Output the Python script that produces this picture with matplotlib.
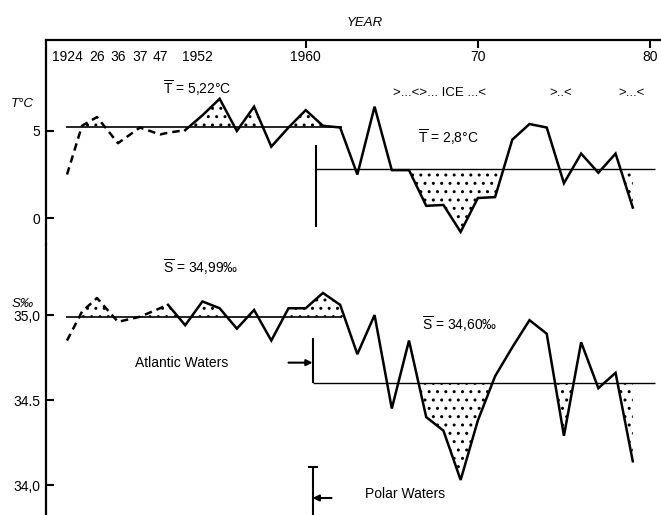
import matplotlib
matplotlib.use("Agg")
import matplotlib.pyplot as plt
import numpy as np
from matplotlib.transforms import blended_transform_factory

# --- data -----------------------------------------------------------------
years = [1924, 1925, 1926, 1936, 1937, 1947,
         1952, 1953, 1954, 1955, 1956, 1957, 1958, 1959,
         1960, 1961, 1962, 1963, 1964, 1965, 1966, 1967, 1968, 1969,
         1970, 1971, 1972, 1973, 1974, 1975, 1976, 1977, 1978, 1979]

temp = [2.5, 5.3, 5.8, 4.3, 5.2, 4.8,
        4.9, 5.05, 5.9, 6.85, 5.0, 6.4, 4.1, 5.2,
        6.2, 5.3, 5.2, 2.5, 6.4, 2.75, 2.75, 0.7, 0.75, -0.8,
        1.15, 1.2, 4.5, 5.4, 5.2, 2.0, 3.7, 2.6, 3.7, 0.6]

sal = [34.85, 35.02, 35.10, 34.96, 34.99, 35.04,
       35.06, 34.94, 35.08, 35.04, 34.92, 35.03, 34.85, 35.04,
       35.04, 35.13, 35.06, 34.77, 35.00, 34.45, 34.85, 34.40, 34.32, 34.03,
       34.38, 34.64, 34.81, 34.97, 34.89, 34.29, 34.84, 34.57, 34.66, 34.14]

# early sparse observations are drawn dashed up to these years
temp_dashed_until = 1953
sal_dashed_until = 1952

# period means
temp_mean_early, temp_mean_late = 5.22, 2.8
sal_mean_early, sal_mean_late = 34.99, 34.60
early_period = (1923.9, 1962.1)
late_end = 1980.3
temp_split, sal_split = 1960.6, 1960.4

# ice years, stippled where the late-period curve falls below its mean
temp_ice = [(1965.5, 1972), (1978.5, 1979.5)]
sal_ice = [(1966.5, 1972), (1974.5, 1975.5), (1978.5, 1979.5)]

top_ticks = [1924, 1926, 1936, 1937, 1947, 1952, 1960, 1970, 1980]
top_labels = ["1924", "26", "36", "37", "47", "1952", "1960", "70", "80"]
major_years = [1960, 1970, 1980]

ice_marks = [(1967.8, ">...<>... ICE ...<"), (1974.8, ">..<"), (1978.9, ">...<")]

# uneven year axis: the sparse early years are spread out, linear from 1952
axis_years = [1924, 1926, 1936, 1937, 1947, 1952, 1980]
axis_pos = [21, 51, 72, 94, 114, 122, 604]
axis_extent = (0, 615)


def year_to_pos(x):
    x = np.asarray(x, dtype=float)
    pos = np.interp(x, axis_years, axis_pos)
    lo = (axis_pos[1] - axis_pos[0]) / (axis_years[1] - axis_years[0])
    hi = (axis_pos[-1] - axis_pos[-2]) / (axis_years[-1] - axis_years[-2])
    pos = np.where(x < axis_years[0], axis_pos[0] + (x - axis_years[0]) * lo, pos)
    pos = np.where(x > axis_years[-1], axis_pos[-1] + (x - axis_years[-1]) * hi, pos)
    return pos


def pos_to_year(p):
    p = np.asarray(p, dtype=float)
    yr = np.interp(p, axis_pos, axis_years)
    lo = (axis_years[1] - axis_years[0]) / (axis_pos[1] - axis_pos[0])
    hi = (axis_years[-1] - axis_years[-2]) / (axis_pos[-1] - axis_pos[-2])
    yr = np.where(p < axis_pos[0], axis_years[0] + (p - axis_pos[0]) * lo, yr)
    yr = np.where(p > axis_pos[-1], axis_years[-1] + (p - axis_pos[-1]) * hi, yr)
    return yr


# --- style ----------------------------------------------------------------
plt.rcParams["font.family"] = ["Liberation Sans", "DejaVu Sans"]
plt.rcParams["font.size"] = 10
plt.rcParams["mathtext.fontset"] = "custom"
plt.rcParams["mathtext.rm"] = "Liberation Sans"
plt.rcParams["mathtext.it"] = "Liberation Sans:italic"
plt.rcParams["hatch.linewidth"] = 1.0

LW = 1.8
fig = plt.figure(figsize=(6.61, 5.15), dpi=100)
ax_t = fig.add_axes([0.0696, 0.5243, 0.9304, 0.3981])
ax_s = fig.add_axes([0.0696, 0.0, 0.9304, 0.5243], sharex=ax_t)

yr = np.array(years, dtype=float)
T = np.array(temp)
S = np.array(sal)


def in_spans(spans):
    m = np.zeros(len(yr), dtype=bool)
    for a, b in spans:
        m |= (yr >= a) & (yr <= b)
    return m


def draw_series(ax, values, dashed_until, mean_early, mean_late, split, ice):
    k = years.index(dashed_until)
    ax.plot(yr[:k + 1], values[:k + 1], color="black", lw=LW, ls=(0, (3, 2)))
    ax.plot(yr[k:], values[k:], color="black", lw=LW, solid_joinstyle="miter")
    ax.hlines(mean_early, *early_period, color="black", lw=1.2)
    ax.hlines(mean_late, split, late_end, color="black", lw=1.0)
    early = (yr <= early_period[1]) & (values >= mean_early)
    ax.fill_between(yr, values, mean_early, where=early, interpolate=True,
                    facecolor="none", edgecolor="black", hatch="..", lw=0)
    late = in_spans(ice) & (values <= mean_late)
    ax.fill_between(yr, values, mean_late, where=late, interpolate=True,
                    facecolor="none", edgecolor="black", hatch="..", lw=0)


draw_series(ax_t, T, temp_dashed_until, temp_mean_early, temp_mean_late,
            temp_split, temp_ice)
draw_series(ax_s, S, sal_dashed_until, sal_mean_early, sal_mean_late,
            sal_split, sal_ice)

ax_t.set_xscale("function", functions=(year_to_pos, pos_to_year))
ax_t.set_xlim(float(pos_to_year(axis_extent[0])), float(pos_to_year(axis_extent[1])))
ax_t.set_ylim(-1.55, 10.23)
ax_s.set_ylim(33.824, 35.412)

# split markers
ax_t.vlines(temp_split, -0.5, 4.2, color="black", lw=1.5)
ax_s.vlines(sal_split, sal_mean_late, 34.865, color="black", lw=1.5)
ax_s.vlines(sal_split, 33.80, 34.106, color="black", lw=1.5)
ax_s.plot([sal_split], [34.106], marker="_", ms=7, mew=1.5, color="black")
ax_s.annotate("", xy=(sal_split, 34.72), xytext=(1959.0, 34.72),
              arrowprops=dict(arrowstyle="-|>", color="black", lw=1.5,
                              mutation_scale=9, shrinkA=0, shrinkB=0))
ax_s.annotate("", xy=(sal_split, 33.924), xytext=(1961.5, 33.924),
              arrowprops=dict(arrowstyle="-|>", color="black", lw=1.5,
                              mutation_scale=9, shrinkA=0, shrinkB=0))

# axes frame
for ax in (ax_t, ax_s):
    ax.spines["right"].set_visible(False)
    ax.spines["bottom"].set_visible(False)
    ax.spines["left"].set_linewidth(1.6)
    ax.tick_params(axis="y", direction="in", length=6, width=1.5, pad=4,
                   labelsize=10)
ax_s.spines["top"].set_visible(False)
ax_t.spines["top"].set_linewidth(1.6)

ax_t.set_yticks([0, 5], ["0", "5"])
ax_s.set_yticks([34.0, 34.5, 35.0], ["34,0", "34.5", "35,0"])

ax_t.xaxis.tick_top()
ax_t.set_xticks(major_years, [""] * len(major_years))
ax_t.tick_params(axis="x", direction="in", length=6, width=1.5)
ax_s.tick_params(axis="x", which="both", bottom=False, top=False,
                 labelbottom=False, labeltop=False)

top_tr = blended_transform_factory(ax_t.transData, ax_t.transAxes)
nudge = {1952: 21}
for year, lab in zip(top_ticks, top_labels):
    ax_t.annotate(lab, xy=(year, 1), xycoords=top_tr,
                  xytext=(nudge.get(year, 0), -12.5), textcoords="offset points",
                  ha="center", va="center", fontsize=10)

# text
fig.text(365 / 661, 1 - 23 / 515, "YEAR", style="italic", ha="center",
         va="center", fontsize=9.5)
fig.text(22 / 661, 1 - 104 / 515, "T°C", style="italic", ha="center",
         va="center", fontsize=9.5)
fig.text(23 / 661, 1 - 304 / 515, "S‰", style="italic", ha="center",
         va="center", fontsize=9.5)

ax_t.text(1953.7, 7.47, r"$\overline{\mathrm{T}}$ = 5,22°C", ha="center", va="center")
ax_t.text(1968.3, 4.66, r"$\overline{\mathrm{T}}$ = 2,8°C", ha="center", va="center")
ax_s.text(1953.9, 35.28, r"$\overline{\mathrm{S}}$ = 34,99‰", ha="center", va="center")
ax_s.text(1968.95, 34.947, r"$\overline{\mathrm{S}}$ = 34,60‰", ha="center", va="center")
ax_s.text(1952.8, 34.72, "Atlantic Waters", ha="center", va="center")
ax_s.text(1965.8, 33.947, "Polar Waters", ha="center", va="center")
for x, lab in ice_marks:
    ax_t.text(x, 7.18, lab, ha="center", va="center", fontsize=9.5)

fig.savefig("out.png", dpi=100)
